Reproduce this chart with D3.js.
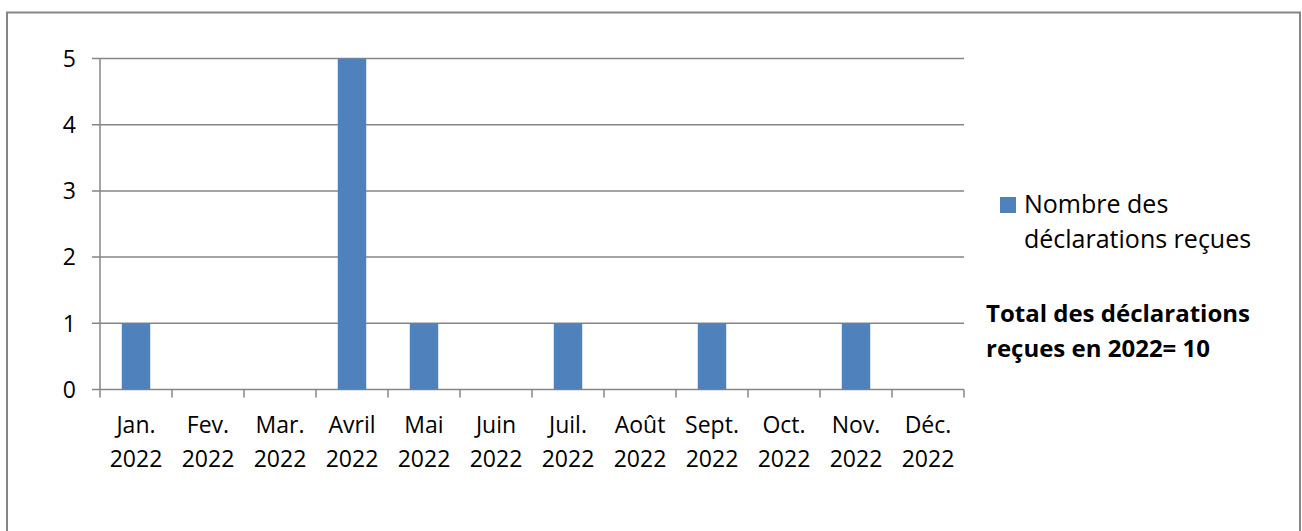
<!DOCTYPE html>
<html>
<head>
<meta charset="utf-8">
<script src="https://cdn.jsdelivr.net/npm/d3@7"></script>
<style>
    body { margin: 0; background: #fff; }
    text { font-family: "Open Sans", Lato, sans-serif; fill: #000; }
</style>
</head>
<body>
<div id="wrapper"></div>
<script>
const months = ["Jan.", "Fev.", "Mar.", "Avril", "Mai", "Juin", "Juil.", "Août", "Sept.", "Oct.", "Nov.", "Déc."];
const year = "2022";
const declarations = [1, 0, 0, 5, 1, 0, 1, 0, 1, 0, 1, 0];
const yTicks = [0, 1, 2, 3, 4, 5];
const legendLines = ["Nombre des", "déclarations reçues"];
const totalLines = ["Total des déclarations", "reçues en 2022= 10"];

const width = 1302;
const height = 531;
const margin = { top: 58.5, right: 338, bottom: 141.5, left: 100 };
const boundedWidth = width - margin.left - margin.right;
const boundedHeight = height - margin.top - margin.bottom;

const svg = d3.select("#wrapper")
    .append("svg")
    .attr("width", width)
    .attr("height", height);

// outer chart frame
svg.append("rect")
    .attr("x", 7)
    .attr("y", 12.5)
    .attr("width", 1293)
    .attr("height", 540)
    .attr("fill", "none")
    .attr("stroke", "#868686")
    .attr("stroke-width", 2);

const bounds = svg.append("g")
    .attr("transform", `translate(${margin.left},${margin.top})`);

const xScale = d3.scaleBand()
    .domain(months)
    .range([0, boundedWidth])
    .paddingInner(0.605)
    .paddingOuter(0.3025);

const yScale = d3.scaleLinear()
    .domain([0, 5])
    .range([boundedHeight, 0]);

// gridlines
bounds.append("g")
    .selectAll("line")
    .data(yTicks)
    .join("line")
    .attr("x1", -8)
    .attr("x2", boundedWidth)
    .attr("y1", d => yScale(d))
    .attr("y2", d => yScale(d))
    .attr("stroke", "#868686")
    .attr("stroke-width", 1.5);

// y axis line
bounds.append("line")
    .attr("x1", 0).attr("x2", 0)
    .attr("y1", 0).attr("y2", boundedHeight)
    .attr("stroke", "#868686")
    .attr("stroke-width", 1.5);

bounds.append("g")
    .selectAll("text")
    .data(yTicks)
    .join("text")
    .attr("x", -24)
    .attr("y", d => yScale(d))
    .attr("dy", "0.36em")
    .attr("text-anchor", "end")
    .style("font-size", "23px")
    .text(d => d);

// bars
bounds.append("g")
    .selectAll("rect")
    .data(declarations)
    .join("rect")
    .attr("x", (d, i) => xScale(months[i]))
    .attr("width", xScale.bandwidth())
    .attr("y", d => yScale(d))
    .attr("height", d => boundedHeight - yScale(d))
    .attr("fill", "#4f81bd");

// x axis ticks at category boundaries
const step = xScale.step();
bounds.append("g")
    .selectAll("line")
    .data(d3.range(months.length + 1))
    .join("line")
    .attr("x1", i => i * step)
    .attr("x2", i => i * step)
    .attr("y1", boundedHeight)
    .attr("y2", boundedHeight + 8)
    .attr("stroke", "#868686")
    .attr("stroke-width", 1.5);

const xLabels = bounds.append("g")
    .selectAll("text")
    .data(months)
    .join("text")
    .attr("x", d => xScale(d) + xScale.bandwidth() / 2)
    .attr("y", boundedHeight + 35)
    .attr("dy", "0.36em")
    .attr("text-anchor", "middle")
    .style("font-size", "23px");
xLabels.append("tspan").text(d => d);
xLabels.append("tspan")
    .attr("x", d => xScale(d) + xScale.bandwidth() / 2)
    .attr("dy", 34)
    .text(year);

// legend
const legend = svg.append("g");
legend.append("rect")
    .attr("x", 1000)
    .attr("y", 197)
    .attr("width", 16)
    .attr("height", 16)
    .attr("fill", "#4f81bd");
legend.selectAll("text")
    .data(legendLines)
    .join("text")
    .attr("x", 1024)
    .attr("y", (d, i) => 204 + i * 35)
    .attr("dy", "0.36em")
    .style("font-size", "25px")
    .text(d => d);

svg.append("g")
    .selectAll("text")
    .data(totalLines)
    .join("text")
    .attr("x", 986)
    .attr("y", (d, i) => 313 + i * 35)
    .attr("dy", "0.36em")
    .style("font-size", "24px")
    .style("font-weight", "bold")
    .text(d => d);
</script>
</body>
</html>
